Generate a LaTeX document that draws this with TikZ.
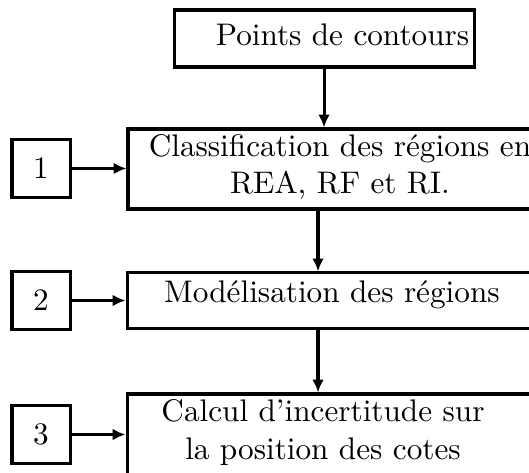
\documentclass[tikz,border=0pt]{standalone}
\usetikzlibrary{arrows.meta}
\tikzset{
    fc box/.style={draw=black, line width=1pt, inner sep=0pt},
    fc wide/.style={fc box, minimum width=4.959cm},
    fc num/.style={fc box, minimum size=0.666cm},
    fc txt/.style={align=center, inner sep=0pt, font=\fontsize{10.2}{12.2}\selectfont},
    fc flow/.style={-{Latex[length=4.2pt, width=3.8pt]}, line width=1pt},
}
\begin{document}
\begin{tikzpicture}
    \useasboundingbox (0, 0) rectangle (6.073, -5.419);
    \clip (0, 0) rectangle (6.073, -5.419);
    % Input
    \node[fc box, minimum width=3.444cm, minimum height=0.654cm]
        (pts) at (3.720, -0.442) {};
    \node[fc txt, anchor=base] (ptstxt) at (3.932, -0.517) {Points de contours};
    % Steps
    \node[fc wide, minimum height=0.918cm] (cls) at (3.949, -1.940) {};
    \node[fc txt] (clstxt) at (3.903, -1.915)
        {Classification des régions en\\REA, RF et RI.};
    \node[fc wide, minimum height=0.643cm] (mod) at (3.938, -3.455) {};
    \node[fc txt, anchor=base] (modtxt) at (3.811, -3.475)
        {Modélisation des régions};
    \node[fc wide, minimum height=1.561cm] (calc) at (3.938, -5.304) {};
    \node[fc txt] (calctxt) at (3.708, -4.965)
        {Calcul d'incertitude sur\\la position des cotes};
    % Step numbers
    \node[fc num, font=\fontsize{10.2}{12.2}\selectfont] (num1) at (0.471, -1.934) {1};
    \node[fc num, font=\fontsize{10.2}{12.2}\selectfont] (num2) at (0.471, -3.450) {2};
    \node[fc num, font=\fontsize{10.2}{12.2}\selectfont] (num3) at (0.471, -4.988) {3};
    % Flow
    \coordinate (spine) at (3.651, 0);
    \draw[fc flow] (pts.south) -- (pts.south |- cls.north);
    \draw[fc flow] (cls.south -| spine) -- (mod.north -| spine);
    \draw[fc flow] (mod.south -| spine) -- (calc.north -| spine);
    \draw[fc flow] (num1) -- (num1 -| cls.west);
    \draw[fc flow] (num2) -- (num2 -| mod.west);
    \draw[fc flow] (num3) -- (num3 -| calc.west);
\end{tikzpicture}
\end{document}
